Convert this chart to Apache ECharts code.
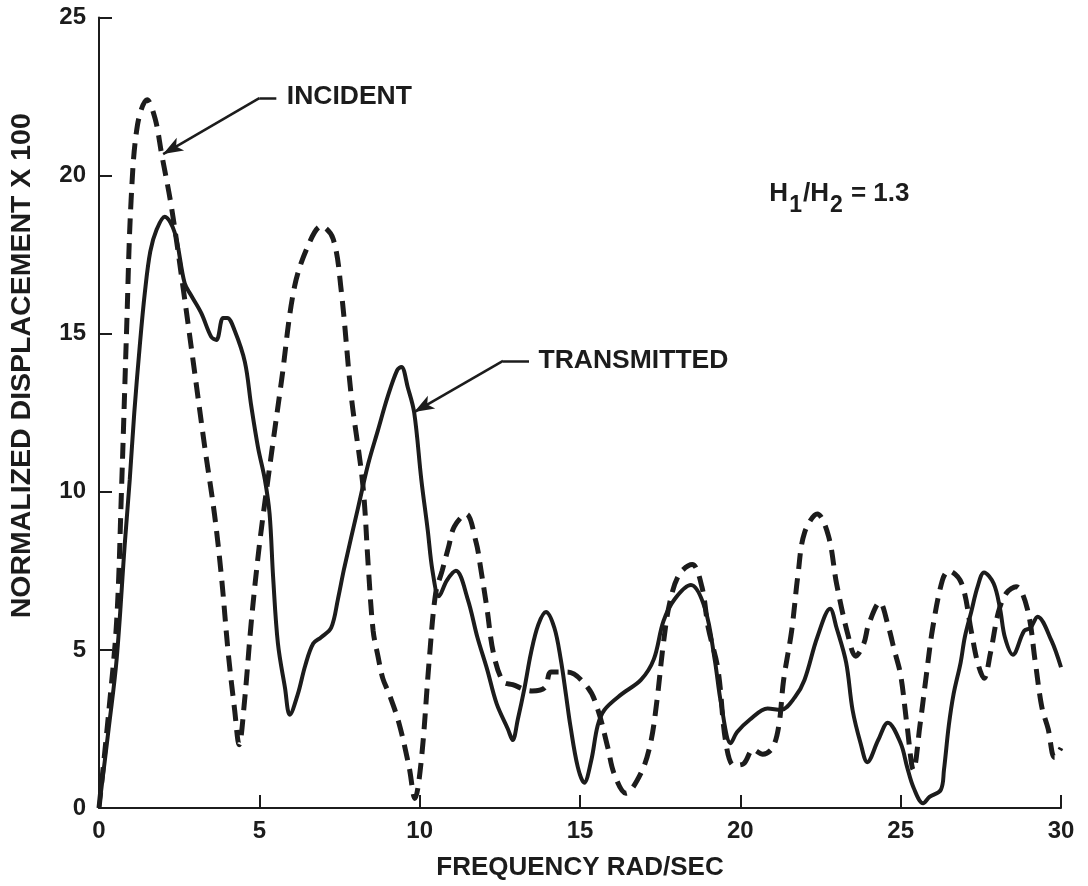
<!DOCTYPE html>
<html>
<head>
<meta charset="utf-8">
<script src="https://cdn.jsdelivr.net/npm/echarts@6/dist/echarts.min.js"></script>
<style>
html,body{margin:0;padding:0;background:#fff;}
#c{width:1088px;height:886px;}
</style>
</head>
<body>
<div id="c"></div>
<script>
// ---- data (x = frequency rad/sec, y = normalized displacement x 100) ----
var incident = [
[0,0],[0.3,3.0],[0.55,5.9],[0.7,10.0],[0.86,15.1],[1.0,19.2],[1.2,21.6],[1.5,22.4],[1.75,21.8],[1.95,20.7],
[2.26,19.0],[2.63,16.4],[2.94,14.1],[3.3,11.4],[3.6,9.3],[3.82,7.3],[4.03,4.9],[4.23,3.1],[4.37,2.0],[4.54,3.4],
[4.75,5.9],[5.0,8.3],[5.27,10.4],[5.69,13.5],[6.1,16.5],[6.57,17.9],[6.93,18.4],[7.3,18.0],[7.55,16.4],[7.87,13.0],
[8.23,10.2],[8.4,7.6],[8.55,5.6],[8.7,4.8],[8.85,4.1],[9.05,3.6],[9.35,2.7],[9.67,1.3],[9.85,0.3],[10.05,1.5],[10.3,4.7],[10.5,6.8],
[10.7,7.5],[10.9,8.25],[11.08,8.9],[11.45,9.3],[11.76,8.4],[11.9,7.6],[12.1,6.3],[12.3,4.9],[12.6,4.0],[12.9,3.9],
[13.5,3.7],[13.9,3.8],[14.1,4.3],[14.6,4.3],[15.25,3.8],[15.56,3.1],[15.87,1.9],[16.06,1.1],[16.43,0.47],[16.9,1.1],
[17.2,2.05],[17.4,3.4],[17.6,5.2],[17.8,6.5],[18.1,7.4],[18.5,7.7],[18.8,7.0],[19.0,5.7],[19.3,4.4],[19.55,2.05],
[19.8,1.35],[20.1,1.4],[20.4,1.85],[20.7,1.7],[21.0,1.9],[21.2,2.6],[21.35,4.05],[21.6,5.6],[21.8,7.4],[22.0,8.7],
[22.4,9.3],[22.75,8.6],[23.0,7.1],[23.35,5.5],[23.6,4.8],[23.85,5.2],[24.0,5.8],[24.35,6.5],[24.6,5.8],[24.8,5.0],
[25.0,4.2],[25.2,2.6],[25.4,1.2],[25.6,2.6],[25.8,4.2],[26.0,5.7],[26.3,7.2],[26.5,7.5],[26.9,7.1],[27.2,5.6],
[27.4,4.6],[27.6,4.1],[27.8,4.9],[28.05,6.2],[28.3,6.8],[28.6,7.0],[28.95,6.3],[29.2,4.6],[29.4,3.2],[29.6,2.5],
[29.8,1.6],[30,1.9]
];
var transmitted = [
[0,0],[0.3,2.5],[0.55,4.7],[0.8,8.3],[0.96,10.4],[1.1,12.5],[1.27,14.6],[1.43,16.3],[1.6,17.6],[1.8,18.3],
[2.05,18.7],[2.36,18.2],[2.67,16.6],[2.88,16.2],[3.19,15.65],[3.5,14.9],[3.66,14.8],[3.87,15.5],[4.0,15.5],[4.23,15.1],
[4.55,14.1],[4.75,12.7],[4.96,11.4],[5.17,10.4],[5.32,9.3],[5.43,7.3],[5.58,5.2],[5.8,3.8],[5.95,2.95],[6.2,3.6],
[6.43,4.5],[6.68,5.2],[6.93,5.4],[7.24,5.7],[7.45,6.6],[7.65,7.6],[8.08,9.5],[8.4,10.9],[8.7,11.95],[9.0,13.0],
[9.3,13.85],[9.43,13.95],[9.63,13.3],[9.83,12.5],[10.05,10.4],[10.25,8.8],[10.4,7.5],[10.6,6.7],[10.85,7.2],[11.13,7.5],
[11.5,6.6],[11.8,5.4],[12.1,4.4],[12.4,3.3],[12.75,2.5],[12.9,2.15],[13.06,2.8],[13.27,3.8],[13.47,4.9],[13.7,5.8],
[13.94,6.2],[14.2,5.7],[14.4,4.7],[14.56,3.6],[14.7,2.6],[14.93,1.3],[15.13,0.8],[15.35,1.5],[15.55,2.6],[15.76,3.1],
[16.3,3.6],[16.9,4.05],[17.3,4.7],[17.6,5.9],[17.95,6.6],[18.46,7.05],[18.9,6.3],[19.2,4.7],[19.4,3.3],[19.7,2.05],
[19.9,2.4],[20.3,2.8],[20.85,3.15],[21.26,3.1],[21.7,3.5],[22.0,4.05],[22.4,5.4],[22.8,6.3],[23.0,5.7],[23.3,4.6],
[23.5,3.1],[23.75,2.05],[23.96,1.45],[24.3,2.15],[24.6,2.7],[25.0,2.05],[25.2,1.3],[25.4,0.65],[25.7,0.15],[25.9,0.35],
[26.25,0.57],[26.35,1.2],[26.5,2.6],[26.65,3.6],[26.87,4.6],[27.0,5.4],[27.2,6.2],[27.4,7.0],[27.6,7.45],[27.9,7.1],
[28.1,6.3],[28.25,5.4],[28.5,4.85],[28.85,5.6],[29.05,5.7],[29.27,6.05],[29.7,5.3],[30,4.45]
];
var xTicks = [0, 5, 10, 15, 20, 25, 30];
var yTicks = [0, 5, 10, 15, 20, 25];
var xTitle = 'FREQUENCY RAD/SEC';
var yTitle = 'NORMALIZED DISPLACEMENT X 100';
// annotation anchor points (data coordinates): text start, bend, arrow tip
var incidentNote = {text: 'INCIDENT', label: [5.84, 22.48], start: [5.53, 22.45], bend: [5.0, 22.45], tip: [2.0, 20.68]};
var transmittedNote = {text: 'TRANSMITTED', label: [13.69, 14.14], start: [13.41, 14.14], bend: [12.6, 14.14], tip: [9.83, 12.52]};
var ratioNote = {pos: [20.89, 19.39], h: 'H', s1: '1', s2: '2', value: '1.3'};

var INK = '#1c1c1c';
var FONT = 'Liberation Sans';

function arrowLines(n) {
  return [
    [{coord: n.start, symbol: 'none'}, {coord: n.bend, symbol: 'none'}],
    [{coord: n.bend, symbol: 'none'}, {coord: n.tip, symbol: 'arrow', symbolSize: [11, 20]}]
  ];
}
function textPoint(coord, formatter, extra) {
  var lbl = {show: true, position: 'right', distance: 0, formatter: formatter,
    color: INK, fontFamily: FONT, fontWeight: 'bold', fontSize: 26.5};
  if (extra) for (var k in extra) lbl[k] = extra[k];
  return {coord: coord, symbol: 'circle', symbolSize: 1, itemStyle: {color: 'rgba(0,0,0,0)'}, label: lbl};
}

var chart = echarts.init(document.getElementById('c'), null, {renderer: 'canvas'});
chart.setOption({
  backgroundColor: '#ffffff',
  animation: false,
  grid: {left: 97.5, right: 27, top: 17.5, bottom: 78, containLabel: false},
  xAxis: {
    type: 'value', min: xTicks[0], max: xTicks[xTicks.length - 1], interval: 5,
    name: xTitle, nameLocation: 'middle', nameGap: 47,
    nameTextStyle: {color: INK, fontFamily: FONT, fontSize: 26, fontWeight: 'bold'},
    axisLine: {show: true, lineStyle: {color: INK, width: 2}},
    axisTick: {show: true, inside: true, length: 13, lineStyle: {color: INK, width: 2}},
    axisLabel: {color: INK, fontFamily: FONT, fontSize: 24, fontWeight: 'bold', margin: 11},
    splitLine: {show: false}
  },
  yAxis: {
    type: 'value', min: yTicks[0], max: yTicks[yTicks.length - 1], interval: 5,
    name: yTitle, nameLocation: 'middle', nameGap: 62, nameRotate: 90,
    nameTextStyle: {color: INK, fontFamily: FONT, fontSize: 28.5, fontWeight: 'bold', padding: [0, 0, 0, 94]},
    axisLine: {show: true, lineStyle: {color: INK, width: 2}},
    axisTick: {show: true, inside: true, length: 13, lineStyle: {color: INK, width: 2}},
    axisLabel: {color: INK, fontFamily: FONT, fontSize: 24, fontWeight: 'bold', margin: 13},
    splitLine: {show: false}
  },
  series: [
    {
      name: 'INCIDENT', type: 'line', data: incident, smooth: 0.35, showSymbol: false,
      lineStyle: {color: INK, width: 5, type: [16, 9], cap: 'butt'},
      markLine: {
        silent: true, animation: false, symbol: 'none',
        lineStyle: {color: INK, width: 2.5, type: 'solid'},
        label: {show: false},
        data: arrowLines(incidentNote)
      },
      markPoint: {
        silent: true, animation: false,
        data: [textPoint(incidentNote.label, incidentNote.text)]
      }
    },
    {
      name: 'TRANSMITTED', type: 'line', data: transmitted, smooth: 0.35, showSymbol: false,
      lineStyle: {color: INK, width: 4, type: 'solid'},
      markLine: {
        silent: true, animation: false, symbol: 'none',
        lineStyle: {color: INK, width: 2.5, type: 'solid'},
        label: {show: false},
        data: arrowLines(transmittedNote)
      },
      markPoint: {
        silent: true, animation: false,
        data: [
          textPoint(transmittedNote.label, transmittedNote.text),
          textPoint(ratioNote.pos,
            '{m|' + ratioNote.h + '}{s|' + ratioNote.s1 + '}{m|/' + ratioNote.h + '}{s|' + ratioNote.s2 + '}{m| = ' + ratioNote.value + '}',
            {rich: {
              m: {color: INK, fontFamily: FONT, fontWeight: 'bold', fontSize: 26, lineHeight: 28, verticalAlign: 'top'},
              s: {color: INK, fontFamily: FONT, fontWeight: 'bold', fontSize: 23, lineHeight: 22, padding: [13, 1, 0, 1], verticalAlign: 'top'}
            }})
        ]
      }
    }
  ]
});
</script>
</body>
</html>
